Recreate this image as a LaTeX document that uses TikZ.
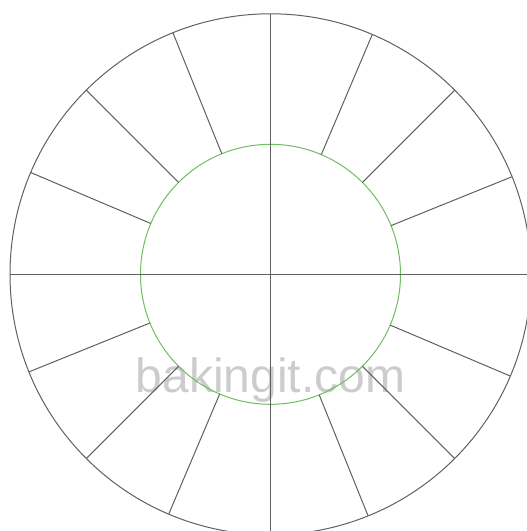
\documentclass[tikz,border=0pt]{standalone}
\usepackage{fontspec}
\usepackage{tikz}
\setmainfont{Liberation Sans}
\definecolor{spokegray}{RGB}{96,96,96}
\definecolor{rimgreen}{RGB}{110,190,95}
\definecolor{markgray}{RGB}{204,204,204}
\tikzstyle{rim} = [circle, draw=spokegray, line width=1pt, inner sep=0pt, outer sep=0pt]
\tikzstyle{hub} = [circle, draw=rimgreen, line width=1pt, inner sep=0pt, outer sep=0pt]
\tikzstyle{spoke} = [draw=spokegray, line width=1pt]
\tikzstyle{watermark} = [text=markgray, font=\fontsize{48}{58}\selectfont, anchor=base]

\begin{document}
\begin{tikzpicture}[x=1pt, y=-1pt]

% Page frame
\useasboundingbox (0,0) rectangle (527,531);
\clip (0,0) rectangle (527,531);

% Watermark
\node (wm) [watermark] at (270.5,392) {bakingit.com};

% Circles
\node (outer) [rim, minimum size=521pt] at (270.5,274.3) {};
\node (inner) [hub, minimum size=260pt] at (270.5,274.3) {};

% Diameters
\draw [spoke] (outer.north) -- (outer.south);
\draw [spoke] (outer.west) -- (outer.east);

% Spokes
\draw [spoke] (inner.22.5) -- (outer.22.5);
\draw [spoke] (inner.45) -- (outer.45);
\draw [spoke] (inner.67.5) -- (outer.67.5);
\draw [spoke] (inner.112.5) -- (outer.112.5);
\draw [spoke] (inner.135) -- (outer.135);
\draw [spoke] (inner.157.5) -- (outer.157.5);
\draw [spoke] (inner.202.5) -- (outer.202.5);
\draw [spoke] (inner.225) -- (outer.225);
\draw [spoke] (inner.247.5) -- (outer.247.5);
\draw [spoke] (inner.292.5) -- (outer.292.5);
\draw [spoke] (inner.315) -- (outer.315);
\draw [spoke] (inner.337.5) -- (outer.337.5);

\end{tikzpicture}
\end{document}
